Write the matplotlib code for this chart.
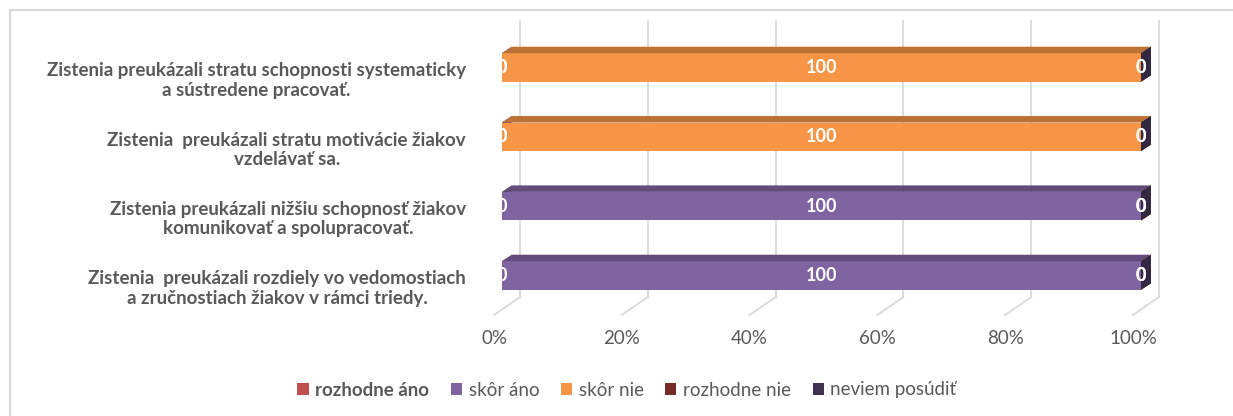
import numpy as np
import matplotlib
matplotlib.use("Agg")
import matplotlib.pyplot as plt
from matplotlib.patches import Polygon, Patch
from matplotlib.lines import Line2D
from matplotlib import transforms
from matplotlib.colors import to_rgb

plt.rcParams['font.family'] = ['Lato', 'DejaVu Sans']

categories = [
    "Zistenia preukázali stratu schopnosti systematicky\na sústredene pracovať.",
    "Zistenia  preukázali stratu motivácie žiakov\nvzdelávať sa.",
    "Zistenia preukázali nižšiu schopnosť žiakov\nkomunikovať a spolupracovať.",
    "Zistenia  preukázali rozdiely vo vedomostiach\na zručnostiach žiakov v rámci triedy.",
]
series_names = ["rozhodne áno", "skôr áno", "skôr nie", "rozhodne nie", "neviem posúdiť"]
rozhodne_ano = [0, 0, 0, 0]
skor_ano = [0, 0, 100, 100]
skor_nie = [100, 100, 0, 0]
rozhodne_nie = [0, 0, 0, 0]
neviem = [0, 0, 0, 0]
xticks = [0, 20, 40, 60, 80, 100]
xtick_labels = ["0%", "20%", "40%", "60%", "80%", "100%"]

colors = ["#C0504D", "#8064A2", "#F79646", "#772C2A", "#403152"]
grid_c = "#D9D9D9"
text_c = "#595959"

W, H = 1233, 416
fig = plt.figure(figsize=(W / 100, H / 100), dpi=100)
# front face of bars: 0% at px 502, 100% at px 1141; axes from y px 21 to 315
ax = fig.add_axes([502 / W, (H - 315) / H, 639 / W, 294 / H])
ax.set_xlim(0, 100)
ax.set_ylim(3.57, -0.67)
ax.axis("off")

px_x = 100 / 639
px_y = (3.57 + 0.67) / 294


def shade(c, f):
    r, g, b = to_rgb(c)
    return (r * f, g * f, b * f)


# back wall gridlines + floor diagonals
back_dx, floor_dx = 18 * px_x, -8 * px_x
y_back = 3.57 - 18 * px_y
for t, lab in zip(xticks, xtick_labels):
    ax.plot([t + back_dx, t + back_dx], [-0.67, y_back], color=grid_c, lw=1.3,
            clip_on=False, zorder=0)
    ax.plot([t + back_dx, t + floor_dx], [y_back, 3.57], color=grid_c, lw=1.3,
            clip_on=False, zorder=0)
    ax.text(t + floor_dx, 3.57 + 23 * px_y, lab,
            ha="center", va="center", fontsize=13.5, color=text_c)

data = np.array([rozhodne_ano, skor_ano, skor_nie, rozhodne_nie, neviem], dtype=float)
pct = data / data.sum(axis=0) * 100
ypos = np.arange(len(categories))
bh = 28.5 * px_y
dx, dy = 10 * px_x, 6.5 * px_y

left = np.zeros(len(categories))
z = 2
for s in range(len(series_names)):
    vals = pct[s]
    for i in ypos:
        x0, x1 = left[i], left[i] + vals[i]
        yt, yb = i - bh / 2, i + bh / 2
        ax.barh(i, vals[i], left=x0, height=bh, color=colors[s], zorder=z)
        top = Polygon([(x0, yt), (x1, yt), (x1 + dx, yt - dy), (x0 + dx, yt - dy)],
                      closed=True, color=shade(colors[s], 0.76), lw=0, zorder=z,
                      clip_on=False)
        side = Polygon([(x1, yt), (x1 + dx, yt - dy), (x1 + dx, yb - dy), (x1, yb)],
                       closed=True, color=shade(colors[s], 0.8), lw=0, zorder=z,
                       clip_on=False)
        ax.add_patch(top)
        ax.add_patch(side)
        z += 1
    left = left + vals

# data labels
left = np.zeros(len(categories))
for s in range(len(series_names)):
    vals = pct[s]
    for i in ypos:
        ax.text(left[i] + vals[i] / 2, i, f"{data[s][i]:.0f}", ha="center", va="center",
                color="white", fontsize=13, fontweight="bold", zorder=100)
    left = left + vals

# category labels
lab_tr = transforms.blended_transform_factory(ax.transAxes, ax.transData)
for i, c in enumerate(categories):
    ax.text((466 - 502) / 639, i + 13 * px_y, c, transform=lab_tr, ha="right", va="center",
            multialignment="center", fontsize=13.5, fontweight="bold", color=text_c,
            linespacing=1.15)

handles = [Patch(facecolor=c, edgecolor="none") for c in colors]
leg = fig.legend(handles, series_names, loc="center", bbox_to_anchor=(627 / W, (H - 390) / H),
                 ncol=5, frameon=False, fontsize=13.5, handlelength=0.6, handleheight=0.6,
                 handletextpad=0.35, columnspacing=1.15, labelcolor=text_c)
leg.get_texts()[0].set_fontweight("bold")

# chart area border (top and left visible)
fig.add_artist(Line2D([10 / W, 1], [1 - 10 / H, 1 - 10 / H], color=grid_c, lw=1.5))
fig.add_artist(Line2D([10 / W, 10 / W], [0, 1 - 10 / H], color=grid_c, lw=1.5))

fig.savefig("out.png", dpi=100)
